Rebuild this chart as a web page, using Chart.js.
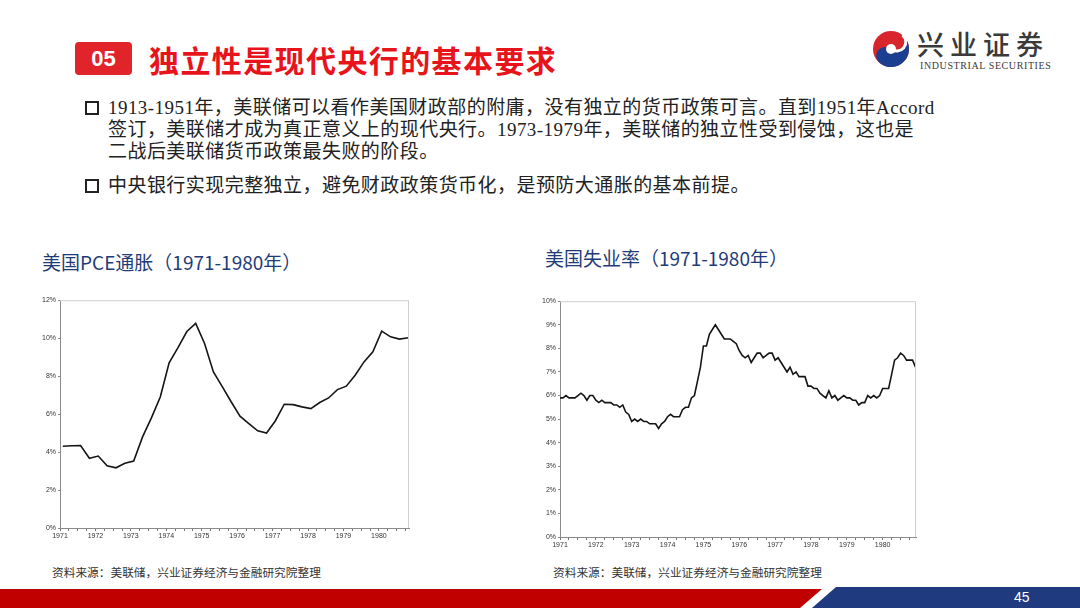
<!DOCTYPE html>
<html>
<head>
<meta charset="utf-8">
<script src="https://cdn.jsdelivr.net/npm/chart.js@4"></script>
<style>
  body { margin: 0; width: 1080px; height: 608px; background: #fff; position: relative; overflow: hidden;
         font-family: "Noto Sans CJK SC", sans-serif; }
  .abs { position: absolute; white-space: nowrap; }
  #badge { left: 75px; top: 42px; width: 57px; height: 33px; background: #e1242a; border-radius: 4px;
           color: #fff; font: bold 22px "Liberation Sans", Arial, sans-serif; text-align: center; line-height: 33px; }
  #title { left: 149px; top: 37px; font-size: 30px; font-weight: bold; color: #e8141c; letter-spacing: 1.4px; }
  .body { left: 108px; font-size: 19px; color: #222; font-family: "Liberation Serif", "Noto Sans CJK SC", serif;
          letter-spacing: 0.45px; line-height: 22px; }
  .box { width: 10px; height: 10px; border: 2px solid #222; }
  .ctitle { font-size: 19px; color: #1f3c78; }
  .src { font-size: 11.7px; color: #333; }
  #pg { left: 1014px; top: 589px; font: 14px "Liberation Sans", Arial, sans-serif; color: #fff; }
</style>
</head>
<body>
<div id="badge" class="abs">05</div>
<div id="title" class="abs">独立性是现代央行的基本要求</div>

<svg class="abs" style="left:872px;top:30px" width="38" height="38" viewBox="0 0 38 38">
  <circle cx="19" cy="19" r="18" fill="#d9262c"/>
  <path d="M19 1 A18 18 0 0 1 19 37 A9 9 0 0 1 19 19 A9 9 0 0 0 19 1 Z" fill="#1d3f8f" transform="rotate(40 19 19)"/>
  <circle cx="19" cy="19" r="5" fill="#fff"/>
  <path d="M19 1 A9 9 0 0 1 19 19" fill="none" stroke="#fff" stroke-width="3" transform="rotate(40 19 19)"/>
</svg>
<div class="abs" style="left:917px;top:24px;font-size:27px;font-weight:500;color:#3a3a3a;letter-spacing:6px">兴业证券</div>
<div class="abs" style="left:920px;top:60px;font-size:10px;color:#3a3a3a;font-family:'Liberation Serif',serif;letter-spacing:0.6px">INDUSTRIAL SECURITIES</div>

<div class="abs box" style="left:85px;top:101px"></div>
<div class="abs body" style="top:97px">1913-1951年，美联储可以看作美国财政部的附庸，没有独立的货币政策可言。直到1951年Accord</div>
<div class="abs body" style="top:119px">签订，美联储才成为真正意义上的现代央行。1973-1979年，美联储的独立性受到侵蚀，这也是</div>
<div class="abs body" style="top:141px">二战后美联储货币政策最失败的阶段。</div>
<div class="abs box" style="left:85px;top:179px"></div>
<div class="abs body" style="top:175px">中央银行实现完整独立，避免财政政策货币化，是预防大通胀的基本前提。</div>

<div class="abs ctitle" style="left:42px;top:248px">美国PCE通胀（1971-1980年）</div>
<div class="abs ctitle" style="left:545px;top:244px">美国失业率（1971-1980年）</div>

<canvas id="pce" class="abs" style="left:30px;top:294px" width="385" height="250"></canvas>
<canvas id="unemp" class="abs" style="left:528px;top:295px" width="394" height="258"></canvas>

<div class="abs src" style="left:52px;top:563px">资料来源：美联储，兴业证券经济与金融研究院整理</div>
<div class="abs src" style="left:553px;top:563px">资料来源：美联储，兴业证券经济与金融研究院整理</div>

<svg class="abs" style="left:0;top:586px" width="1080" height="22">
  <polygon points="0,3 822,3 800,22 0,22" fill="#c00000"/>
  <polygon points="836,1 1080,1 1080,22 812,22" fill="#1f3a7e"/>
</svg>
<div id="pg" class="abs">45</div>

<script>
// years shown on the x axis
var years = [1971, 1972, 1973, 1974, 1975, 1976, 1977, 1978, 1979, 1980];

// PCE inflation, quarterly, 1971Q1 - 1980Q4 (%)
var pceValues = [
  4.31, 4.33, 4.34, 3.67,
  3.79, 3.28, 3.17, 3.41,
  3.53, 4.80, 5.80, 6.90,
  8.70, 9.50, 10.35, 10.78,
  9.72, 8.22, 7.45, 6.65,
  5.89, 5.50, 5.12, 5.00,
  5.65, 6.52, 6.50, 6.38,
  6.29, 6.61, 6.85, 7.29,
  7.47, 8.05, 8.75, 9.28,
  10.37, 10.07, 9.95, 10.02
];

// unemployment rate, monthly, Jan 1971 - Dec 1980 (%)
var unempValues = [
  5.9, 5.9, 6.0, 5.9, 5.9, 5.9, 6.0, 6.1, 6.0, 5.8, 6.0, 6.0,
  5.8, 5.7, 5.8, 5.7, 5.7, 5.7, 5.6, 5.6, 5.5, 5.6, 5.3, 5.2,
  4.9, 5.0, 4.9, 5.0, 4.9, 4.9, 4.8, 4.8, 4.8, 4.6, 4.8, 4.9,
  5.1, 5.2, 5.1, 5.1, 5.1, 5.4, 5.5, 5.5, 5.9, 6.0, 6.6, 7.2,
  8.1, 8.1, 8.6, 8.8, 9.0, 8.8, 8.6, 8.4, 8.4, 8.4, 8.3, 8.2,
  7.9, 7.7, 7.6, 7.7, 7.4, 7.6, 7.8, 7.8, 7.6, 7.7, 7.8, 7.8,
  7.5, 7.6, 7.4, 7.2, 7.0, 7.2, 6.9, 7.0, 6.8, 6.8, 6.8, 6.4,
  6.4, 6.3, 6.3, 6.1, 6.0, 5.9, 6.2, 5.9, 6.0, 5.8, 5.9, 6.0,
  5.9, 5.9, 5.8, 5.8, 5.6, 5.7, 5.7, 6.0, 5.9, 6.0, 5.9, 6.0,
  6.3, 6.3, 6.3, 6.9, 7.5, 7.6, 7.8, 7.7, 7.5, 7.5, 7.5, 7.2
];

// quarter marks for the minor ticks
var quarterTicks = [];
years.forEach(function (y) {
  [0, 0.25, 0.5, 0.75].forEach(function (q) { quarterTicks.push(y + q); });
});

// time positions: quarterly points sit a little after the quarter start
var pcePoints = pceValues.map(function (v, i) {
  return { x: years[0] + Math.floor(i / 4) + (i % 4) / 4 + 0.08, y: v };
});
var unempPoints = unempValues.map(function (v, i) {
  return { x: years[0] + Math.floor(i / 12) + (i % 12) / 12, y: v };
});

var frameBox = {
  id: 'frameBox',
  afterDraw: function (chart) {
    var a = chart.chartArea, c = chart.ctx;
    c.save();
    c.strokeStyle = '#cfcfcf';
    c.lineWidth = 1;
    c.beginPath();
    c.moveTo(a.left, a.top + 0.5);
    c.lineTo(a.right - 0.5, a.top + 0.5);
    c.lineTo(a.right - 0.5, a.bottom);
    c.stroke();
    c.restore();
  }
};

function makeChart(id, points, xMax, yMax, yStep, yWidth) {
  return new Chart(document.getElementById(id), {
    type: 'line',
    data: {
      datasets: [{
        data: points,
        borderColor: '#151515',
        borderWidth: 1.6,
        pointRadius: 0,
        tension: 0
      }]
    },
    options: {
      responsive: false,
      animation: false,
      layout: { padding: { top: 6, right: 6, left: 0, bottom: 0 } },
      plugins: { legend: { display: false }, tooltip: { enabled: false } },
      scales: {
        x: {
          type: 'linear',
          min: years[0],
          max: xMax,
          afterBuildTicks: function (s) {
            s.ticks = quarterTicks.map(function (v) { return { value: v }; });
          },
          afterFit: function (s) { s.height = 16; },
          grid: { drawOnChartArea: false, drawTicks: true, tickLength: 3, color: '#777' },
          border: { color: '#8a8a8a', width: 1 },
          ticks: {
            autoSkip: false,
            maxRotation: 0,
            padding: 1,
            color: '#333',
            font: { size: 7, family: 'Liberation Sans' },
            callback: function (v) {
              return Math.abs(v - Math.round(v)) < 1e-6 ? String(Math.round(v)) : '';
            }
          }
        },
        y: {
          min: 0,
          max: yMax,
          afterFit: function (s) { s.width = yWidth; },
          grid: { drawOnChartArea: false, drawTicks: true, tickLength: 2, color: '#8a8a8a' },
          border: { color: '#8a8a8a', width: 1 },
          ticks: {
            stepSize: yStep,
            padding: 2,
            color: '#333',
            font: { size: 7, family: 'Liberation Sans' },
            callback: function (v) { return v + '%'; }
          }
        }
      }
    },
    plugins: [frameBox]
  });
}

makeChart('pce', pcePoints, 1980.85, 12, 2, 30);
makeChart('unemp', unempPoints, 1980.93, 10, 1, 32);
</script>
</body>
</html>
